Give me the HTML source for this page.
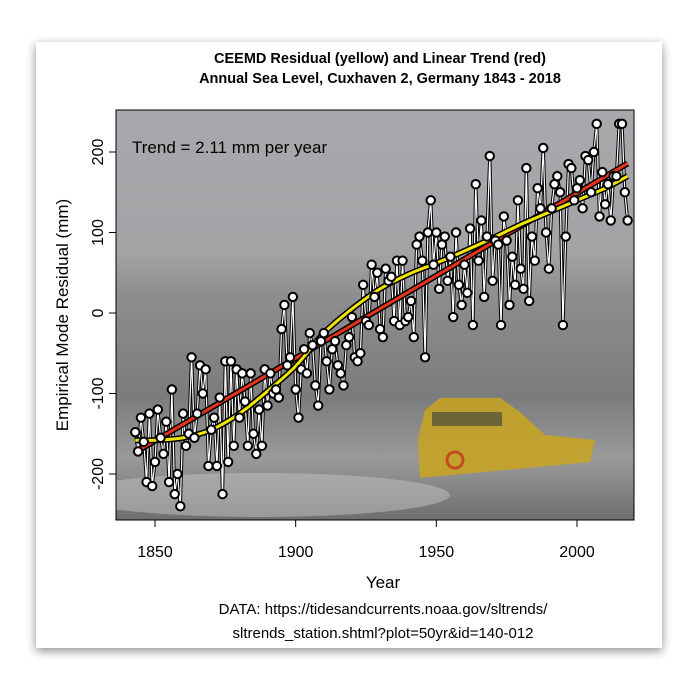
<!DOCTYPE html>
<html><head><meta charset="utf-8"><style>
body{margin:0;background:#fff;width:699px;height:690px;overflow:hidden;font-family:"Liberation Sans",sans-serif}
</style></head><body>
<svg id="svg" width="699" height="690" xmlns="http://www.w3.org/2000/svg">
<defs>
<filter id="sh" x="-10%" y="-10%" width="120%" height="120%"><feDropShadow dx="0" dy="3" stdDeviation="5" flood-color="#000" flood-opacity="0.45"/></filter>
<linearGradient id="sky" x1="0" y1="0" x2="0" y2="1">
<stop offset="0" stop-color="#a9a9ad"/><stop offset="0.35" stop-color="#a3a3a6"/><stop offset="0.45" stop-color="#8d8e8f"/><stop offset="0.7" stop-color="#7b7c7c"/><stop offset="0.85" stop-color="#9a9a9a"/><stop offset="1" stop-color="#6e6e6e"/></linearGradient>
<clipPath id="clip"><rect x="116" y="110" width="518" height="410"/></clipPath>
</defs>
<rect x="36" y="42" width="626" height="606" fill="#fff" filter="url(#sh)"/>
<rect x="116" y="110" width="518" height="410" fill="url(#sky)"/>
<g clip-path="url(#clip)">
<ellipse cx="260" cy="495" rx="190" ry="22" fill="#c4c4c4" opacity="0.5"/>
<path d="M418 440 L425 410 L440 398 L500 398 L520 412 L545 435 L595 440 L590 462 L420 478 Z" fill="#c9a520" opacity="0.85"/>
<rect x="432" y="412" width="70" height="14" fill="#4a4a3a" opacity="0.7"/>
<circle cx="455" cy="460" r="8" fill="none" stroke="#c84a20" stroke-width="3"/>
</g>
<text x="380" y="63" text-anchor="middle" font-size="14.5" font-weight="bold">CEEMD Residual (yellow) and Linear Trend (red)</text>
<text x="380" y="83" text-anchor="middle" font-size="14.5" font-weight="bold">Annual Sea Level, Cuxhaven 2, Germany 1843 - 2018</text>
<text x="132" y="153" font-size="17">Trend = 2.11 mm per year</text>
<g id="axes"></g>
<g id="marks" clip-path="url(#clip)"></g>
<rect x="116" y="110" width="518" height="410" fill="none" stroke="#000" stroke-width="1"/>
<text x="383" y="588" text-anchor="middle" font-size="17">Year</text>
<text transform="translate(68,315) rotate(-90)" text-anchor="middle" font-size="17">Empirical Mode Residual (mm)</text>
<text x="383" y="614" text-anchor="middle" font-size="15">DATA: https://tidesandcurrents.noaa.gov/sltrends/</text>
<text x="383" y="638" text-anchor="middle" font-size="15">sltrends_station.shtml?plot=50yr&amp;id=140-012</text>
</svg>
<script>
const startYear = 1843;
const seaLevel = [-148,-172,-130,-160,-210,-125,-215,-185,-120,-155,
-175,-135,-210,-95,-225,-200,-240,-125,-165,-150,
-55,-155,-125,-65,-100,-70,-190,-145,-130,-190,
-105,-225,-60,-185,-60,-165,-70,-130,-75,-110,
-165,-75,-150,-175,-120,-165,-70,-115,-75,-100,
-95,-105,-20,10,-65,-55,20,-95,-130,-70,
-45,-75,-25,-40,-90,-115,-35,-25,-60,-95,
-45,-35,-65,-75,-90,-40,-30,-5,-55,-60,
-50,35,-10,-15,60,20,50,-20,-30,55,40,
45,-10,65,-15,65,-10,-5,15,-30,85,95,
65,-55,100,140,60,100,30,85,95,40,70,
-5,100,35,10,60,25,105,-15,160,65,115,
20,95,195,40,90,85,-15,120,90,10,70,
35,140,55,30,180,15,95,65,155,130,205,
100,55,130,160,170,150,-15,95,185,180,140,
155,165,130,195,190,150,200,235,120,175,135,
160,115,170,170,235,235,150,115];
const residualYears = [1843,1850,1860,1870,1880,1890,1900,1910,1920,1930,1940,1950,1960,1970,1980,1990,2000,2010,2018];
const residualValues = [-158,-158,-155,-145,-125,-97,-66,-25,5,30,48,62,77,93,110,125,140,155,170];
const trendSlope = 2.05;
const trendAt1843 = -173;
const xTicks = [1850,1900,1950,2000];
const yTicks = [-200,-100,0,100,200];

const NS="http://www.w3.org/2000/svg";
const X = y => 155 + (y-1850)*(422/150);
const Y = v => 313 - v*0.805;
function mk(tag, attrs, parent){const e=document.createElementNS(NS,tag);for(const k in attrs)e.setAttribute(k,attrs[k]);parent.appendChild(e);return e;}
const axes=document.getElementById('axes'), marks=document.getElementById('marks');
xTicks.forEach(t=>{
  const l=mk('line',{x1:X(t),x2:X(t),y1:520,y2:527,stroke:'#000'},axes);
  
  
  const tx=mk('text',{x:X(t),y:557,'text-anchor':'middle','font-size':16},axes);tx.textContent=t;
  
  
});
yTicks.forEach(t=>{
  const l=mk('line',{x1:109,x2:116,y1:Y(t),y2:Y(t),stroke:'#000'},axes);
  
  
  const tx=mk('text',{transform:`translate(103,${Y(t)}) rotate(-90)`,'text-anchor':'middle','font-size':16},axes);tx.textContent=t;
  
  
});
const pts=seaLevel.map((v,i)=>X(startYear+i)+','+Y(v)).join(' ');
const pl1=mk('polyline',{points:pts,fill:'none',stroke:'#000','stroke-width':3.2},marks);


const pl2=mk('polyline',{points:pts,fill:'none',stroke:'#fff','stroke-width':1.2},marks);


const y0=1843,y1=2018;
const tpts=`${X(y0)},${Y(trendAt1843)} ${X(y1)},${Y(trendAt1843+trendSlope*(y1-y0))}`;
const t1=mk('polyline',{points:tpts,fill:'none',stroke:'#000','stroke-width':6},marks);


const t2=mk('polyline',{points:tpts,fill:'none',stroke:'#e8321a','stroke-width':3},marks);


const rp=residualYears.map((y,i)=>[X(y),Y(residualValues[i])]);
let d=`M${rp[0][0]},${rp[0][1]}`;
for(let i=0;i<rp.length-1;i++){const p0=rp[Math.max(0,i-1)],p1=rp[i],p2=rp[i+1],p3=rp[Math.min(rp.length-1,i+2)];
d+=` C${p1[0]+(p2[0]-p0[0])/6},${p1[1]+(p2[1]-p0[1])/6} ${p2[0]-(p3[0]-p1[0])/6},${p2[1]-(p3[1]-p1[1])/6} ${p2[0]},${p2[1]}`;}
const r1=mk('path',{d:d,fill:'none',stroke:'#000','stroke-width':6},marks);


const r2=mk('path',{d:d,fill:'none',stroke:'#f2e600','stroke-width':3},marks);


seaLevel.forEach((v,i)=>{
  const c=mk('circle',{cx:X(startYear+i),cy:Y(v),r:4.2,fill:'#fff',stroke:'#000','stroke-width':2},marks);
  
  
});
</script>
</body></html>
